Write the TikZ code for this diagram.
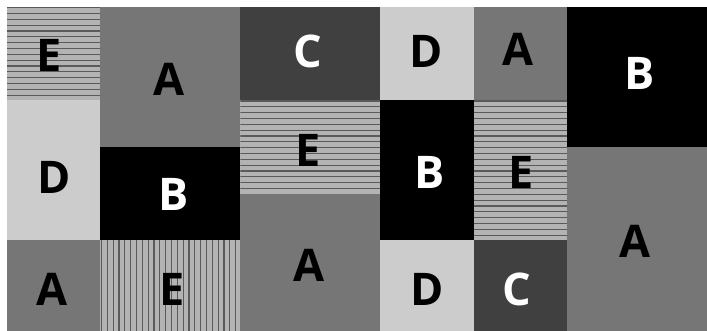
\documentclass[tikz,border=0pt]{standalone}
\usepackage{fontspec}
\setmainfont{Open Sans}
\definecolor{colA}{HTML}{767676}
\definecolor{colC}{HTML}{404040}
\definecolor{colD}{HTML}{CCCCCC}
\definecolor{colE}{HTML}{B3B3B3}
\definecolor{colEline}{HTML}{5A5A5A}
\tikzset{
  blk/.style={inner sep=0pt, outer sep=0pt, draw=none},
  small/.style={minimum width=93.33pt},
  wide/.style={minimum width=140pt},
  hone/.style={minimum height=93.33pt},
  htwo/.style={minimum height=140pt},
  hthree/.style={minimum height=186.67pt},
  blkA/.style={blk, fill=colA},
  blkB/.style={blk, fill=black},
  blkC/.style={blk, fill=colC},
  blkD/.style={blk, fill=colD},
  stripeline/.style={draw=colEline, line width=1.1pt},
  blkEh/.style={blk, fill=colE, path picture={
    \foreach \k in {0,...,30}
      \draw[stripeline] ([yshift=-0.7pt-\k*5.8333pt]path picture bounding box.north west)
        -- ([yshift=-0.7pt-\k*5.8333pt]path picture bounding box.north east);}},
  blkEv/.style={blk, fill=colE, path picture={
    \foreach \k in {0,...,30}
      \draw[stripeline] ([xshift=1.2pt+\k*5.8333pt]path picture bounding box.south west)
        -- ([xshift=1.2pt+\k*5.8333pt]path picture bounding box.north west);}},
  letter/.style={inner sep=0pt, outer sep=0pt, text depth=0pt,
    font=\fontsize{45}{45}\selectfont\bfseries},
  dark/.style={letter, text=black},
  light/.style={letter, text=white},
}
\begin{document}
\begin{tikzpicture}[x=1pt,y=1pt]
\useasboundingbox (0,0) rectangle (707,-330);
\fill[white] (0,0) rectangle (707,-330);
% column 1
\node[blkEh, small, hone] (e1) at (53.67,-53.67) {};
\node[blkD, small, htwo] (d1) at (53.67,-170.33) {};
\node[blkA, small, hone] (a1) at (53.67,-287) {};
% column 2
\node[blkA, wide, htwo] (a2) at (170.33,-77) {};
\node[blkB, wide, hone] (b2) at (170.33,-193.67) {};
\node[blkEv, wide, hone] (e2) at (170.33,-287) {};
% column 3
\node[blkC, wide, hone] (c3) at (310.33,-53.67) {};
\node[blkEh, wide, hone] (e3) at (310.33,-147) {};
\node[blkA, wide, htwo] (a3) at (310.33,-263.67) {};
% column 4
\node[blkD, small, hone] (d4) at (427,-53.67) {};
\node[blkB, small, htwo] (b4) at (427,-170.33) {};
\node[blkD, small, hone] (d4b) at (427,-287) {};
% column 5
\node[blkA, small, hone] (a5) at (520.33,-53.67) {};
\node[blkEh, small, htwo] (e5) at (520.33,-170.33) {};
\node[blkC, small, hone] (c5) at (520.33,-287) {};
% column 6
\node[blkB, wide, htwo] (b6) at (637,-77) {};
\node[blkA, wide, hthree] (a6) at (637,-240.33) {};
% letters
\node[dark] (te1) at (49.5,-55.5) {E};
\node[dark] (td1) at (53.7,-177.5) {D};
\node[dark] (ta1) at (51.7,-289) {A};
\node[dark] (ta2) at (168.7,-79.5) {A};
\node[light] (tb2) at (173.3,-194.5) {B};
\node[dark] (te2) at (171.7,-289.2) {E};
\node[light] (tc3) at (307.5,-51) {C};
\node[dark] (te3) at (308,-150) {E};
\node[dark] (ta3) at (308.7,-265.6) {A};
\node[dark] (td4) at (426.2,-51.2) {D};
\node[light] (tb4) at (429.5,-172.5) {B};
\node[dark] (td4b) at (426.7,-289) {D};
\node[dark] (ta5) at (518,-49.5) {A};
\node[dark] (te5) at (521.2,-172) {E};
\node[light] (tc5) at (517.3,-289) {C};
\node[light] (tb6) at (639.5,-73.3) {B};
\node[dark] (ta6) at (635,-241.5) {A};
\end{tikzpicture}
\end{document}
